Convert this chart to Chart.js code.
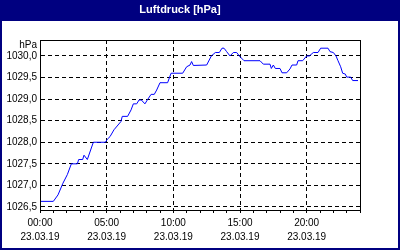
<!DOCTYPE html>
<html>
<head>
<meta charset="utf-8">
<script src="https://cdn.jsdelivr.net/npm/chart.js@4"></script>
<style>
    html, body { margin: 0; padding: 0; background: #fff; }
</style>
</head>
<body>
<canvas id="luftdruck" width="400" height="250"></canvas>
<script>
// hours since 00:00 on 23.03.19
const hours = [0.0, 1.0, 1.35, 1.72, 2.05, 2.35, 2.8, 2.9, 3.2, 3.3, 3.55, 4.0, 4.9, 5.05, 5.25, 5.55,
    6.07, 6.17, 6.57, 6.83, 7.0, 7.25, 7.43, 7.6, 7.87, 8.05, 8.33, 8.57, 8.75, 9.0, 9.57, 9.83,
    10.7, 11.0, 11.25, 11.37, 11.5, 12.5, 12.85, 13.15, 13.45, 13.65, 13.8, 14.0, 14.25, 14.5, 14.75,
    14.95, 15.3, 16.5, 16.75, 17.25, 17.35, 17.5, 17.65, 18.0, 18.15, 18.5, 18.75, 18.9, 19.25, 19.35,
    19.7, 20.0, 20.2, 20.5, 20.85, 21.05, 21.6, 21.75, 22.0, 22.2, 22.35, 22.55, 22.7, 22.9, 23.0,
    23.3, 23.45, 23.85];
const pressure = [1026.63, 1026.63, 1026.78, 1027.05, 1027.25, 1027.5, 1027.5, 1027.6, 1027.6, 1027.7, 1027.6, 1028.0, 1028.0, 1028.07, 1028.13, 1028.29,
    1028.48, 1028.6, 1028.6, 1028.75, 1028.89, 1028.89, 1028.98, 1028.98, 1028.89, 1028.98, 1029.11, 1029.11, 1029.21, 1029.38, 1029.38, 1029.6,
    1029.6, 1029.75, 1029.79, 1029.87, 1029.78, 1029.79, 1030.0, 1030.08, 1030.08, 1030.18, 1030.18, 1030.1, 1030.0, 1030.08, 1030.08,
    1030.0, 1029.89, 1029.89, 1029.81, 1029.81, 1029.71, 1029.79, 1029.71, 1029.71, 1029.61, 1029.61, 1029.7, 1029.79, 1029.79, 1029.89,
    1029.89, 1030.0, 1030.0, 1030.08, 1030.08, 1030.18, 1030.18, 1030.1, 1030.08, 1030.0, 1029.89, 1029.75, 1029.6, 1029.58, 1029.51,
    1029.51, 1029.43, 1029.43];
const xLabelHours = [0, 5, 10, 15, 20];
const xLabelTimes = ['00:00', '05:00', '10:00', '15:00', '20:00'];
const xLabelDate = '23.03.19';

const fontFamily = '"Liberation Sans", Arial, sans-serif';

// navy frame + title bar behind everything
const framePlugin = {
    id: 'frame',
    beforeDraw(chart) {
        const ctx = chart.ctx;
        ctx.save();
        ctx.fillStyle = '#ffffff';
        ctx.fillRect(0, 0, chart.width, chart.height);
        ctx.fillStyle = '#000080';
        ctx.fillRect(0, 0, chart.width, 21);
        ctx.strokeStyle = '#000080';
        ctx.lineWidth = 2;
        ctx.strokeRect(1, 1, chart.width - 2, chart.height - 2);
        ctx.restore();
    },
    afterDraw(chart) {
        const ctx = chart.ctx;
        const a = chart.chartArea;
        ctx.save();
        ctx.strokeStyle = '#000';
        ctx.lineWidth = 1;
        ctx.strokeRect(Math.round(a.left) + 0.5, Math.round(a.top) + 0.5,
            Math.round(a.right - a.left), Math.round(a.bottom - a.top));
        // unit label above the y axis
        ctx.fillStyle = '#000';
        ctx.font = '10px ' + fontFamily;
        ctx.textAlign = 'right';
        ctx.textBaseline = 'middle';
        ctx.fillText('hPa', a.left - 3, 45);
        ctx.restore();
    },
};

new Chart(document.getElementById('luftdruck'), {
    type: 'line',
    data: {
        datasets: [{
            label: 'Luftdruck',
            data: hours.map((h, i) => ({ x: h, y: pressure[i] })),
            borderColor: '#0000ff',
            borderWidth: 1,
            pointRadius: 0,
            tension: 0,
            fill: false,
        }],
    },
    options: {
        responsive: false,
        animation: false,
        devicePixelRatio: 1,
        layout: { padding: { left: 0, right: 40, top: 0, bottom: 0 } },
        plugins: {
            legend: { display: false },
            tooltip: { enabled: false },
            title: {
                display: true,
                text: 'Luftdruck [hPa]',
                color: '#ffffff',
                font: { family: fontFamily, size: 11, weight: 'bold', lineHeight: '14px' },
                padding: { top: 3, bottom: 23 },
            },
        },
        scales: {
            x: {
                type: 'linear',
                min: 0,
                max: 24,
                afterFit: (scale) => { scale.height = 40; },
                ticks: {
                    stepSize: 1,
                    autoSkip: false,
                    maxRotation: 0,
                    padding: 3,
                    color: '#000',
                    font: { family: fontFamily, size: 10, lineHeight: '14px' },
                    callback: (v) => {
                        const k = xLabelHours.indexOf(v);
                        return k >= 0 ? [xLabelTimes[k], xLabelDate] : '';
                    },
                },
                grid: {
                    color: (c) => (c.tick && c.tick.value % 5 === 0 && c.tick.value > 0 && c.tick.value < 24) ? '#000' : 'rgba(0,0,0,0)',
                    tickColor: '#000',
                    tickLength: 3,
                    tickBorderDash: [],
                },
                border: { color: '#000', dash: [4, 3] },
            },
            y: {
                min: 1026.43,
                max: 1030.37,
                afterFit: (scale) => { scale.width = 40; },
                ticks: {
                    stepSize: 0.5,
                    includeBounds: false,
                    padding: 3,
                    color: '#000',
                    font: { family: fontFamily, size: 10 },
                    callback: (v) => v.toFixed(1).replace('.', ','),
                },
                grid: {
                    color: '#000',
                    drawTicks: false,
                },
                border: { color: '#000', dash: [4, 3] },
            },
        },
    },
    plugins: [framePlugin],
});
</script>
</body>
</html>
